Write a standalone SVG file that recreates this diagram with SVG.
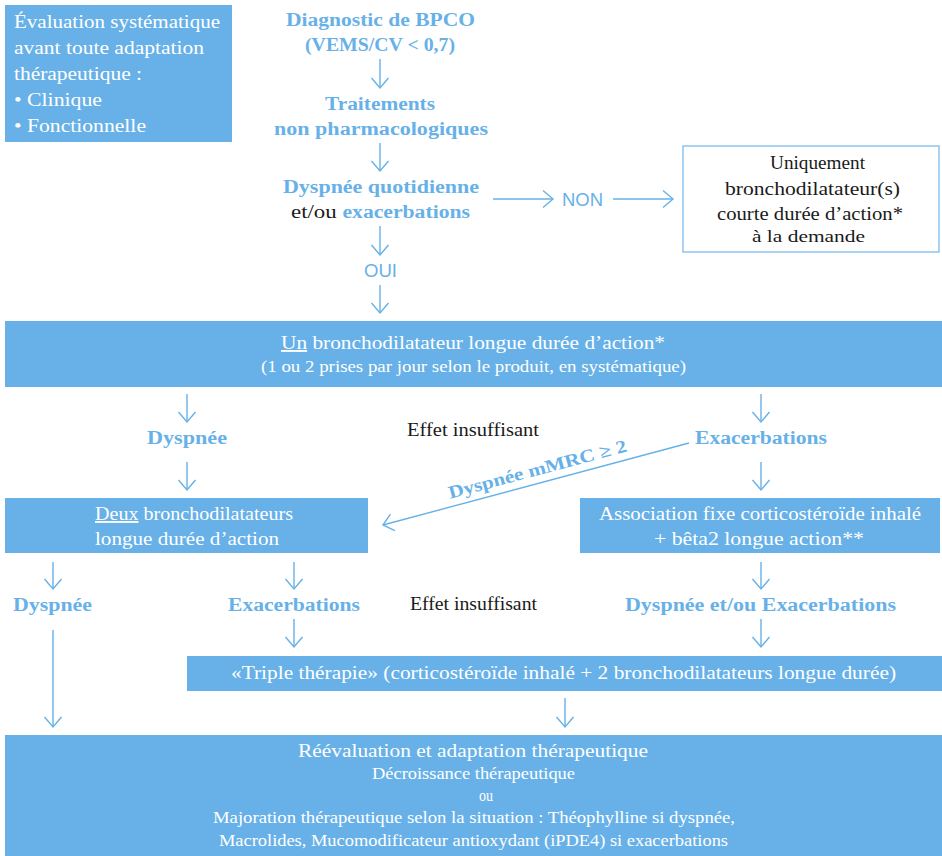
<svg xmlns="http://www.w3.org/2000/svg" width="942" height="856" viewBox="0 0 942 856">
<style>
.box{fill:#67b1e8;}
.wbox{fill:#ffffff;stroke:#8ec4ee;stroke-width:1.5;}
.wt{font-family:"Liberation Serif","Times New Roman",serif;fill:#ffffff;}
.bl{font-family:"Liberation Serif","Times New Roman",serif;font-weight:bold;fill:#67b1e8;}
.bk{font-family:"Liberation Serif","Times New Roman",serif;fill:#1a1a1a;}
.sans{font-family:"Liberation Sans",Arial,sans-serif;fill:#67b1e8;}
.c{stroke:#67b1e8;stroke-width:1.4;fill:none;}
</style>
<defs>
<marker id="ah" viewBox="-12 -10 14 20" markerWidth="14" markerHeight="20" refX="0" refY="0" orient="auto" markerUnits="userSpaceOnUse">
<path d="M-10,-8.5 L0,0 L-10,8.5" fill="none" stroke="#67b1e8" stroke-width="1.4"/>
</marker>
</defs>
<rect width="942" height="856" fill="#ffffff"/>

<g id="connectors">
<line class="c" x1="380" y1="59" x2="380" y2="88" marker-end="url(#ah)"/>
<line class="c" x1="380" y1="143" x2="380" y2="171" marker-end="url(#ah)"/>
<line class="c" x1="493" y1="199" x2="553" y2="199" marker-end="url(#ah)"/>
<line class="c" x1="613" y1="199" x2="673" y2="199" marker-end="url(#ah)"/>
<line class="c" x1="380" y1="226" x2="380" y2="255" marker-end="url(#ah)"/>
<line class="c" x1="380" y1="285" x2="380" y2="313" marker-end="url(#ah)"/>
<line class="c" x1="187" y1="394" x2="187" y2="422" marker-end="url(#ah)"/>
<line class="c" x1="761" y1="394" x2="761" y2="422" marker-end="url(#ah)"/>
<line class="c" x1="187" y1="462" x2="187" y2="490" marker-end="url(#ah)"/>
<line class="c" x1="761" y1="462" x2="761" y2="490" marker-end="url(#ah)"/>
<line class="c" x1="689" y1="443" x2="383" y2="525" marker-end="url(#ah)"/>
<line class="c" x1="53" y1="562" x2="53" y2="589" marker-end="url(#ah)"/>
<line class="c" x1="294" y1="562" x2="294" y2="589" marker-end="url(#ah)"/>
<line class="c" x1="761" y1="562" x2="761" y2="589" marker-end="url(#ah)"/>
<line class="c" x1="294" y1="619" x2="294" y2="647" marker-end="url(#ah)"/>
<line class="c" x1="761" y1="619" x2="761" y2="647" marker-end="url(#ah)"/>
<line class="c" x1="53" y1="630" x2="53" y2="727" marker-end="url(#ah)"/>
<line class="c" x1="565" y1="698" x2="565" y2="727" marker-end="url(#ah)"/>
</g>

<g id="evaluation">
<rect class="box" x="5" y="5" width="227" height="137"/>
<text class="wt" font-size="19" x="14" y="28" textLength="206" lengthAdjust="spacingAndGlyphs">Évaluation systématique</text>
<text class="wt" font-size="19" x="14" y="54" textLength="190" lengthAdjust="spacingAndGlyphs">avant toute adaptation</text>
<text class="wt" font-size="19" x="14" y="80" textLength="128" lengthAdjust="spacingAndGlyphs">thérapeutique :</text>
<text class="wt" font-size="19" x="14" y="106" textLength="88" lengthAdjust="spacingAndGlyphs">• Clinique</text>
<text class="wt" font-size="19" x="14" y="132" textLength="132" lengthAdjust="spacingAndGlyphs">• Fonctionnelle</text>
</g>

<g id="diagnostic">
<text class="bl" font-size="18" x="286" y="26" textLength="189" lengthAdjust="spacingAndGlyphs">Diagnostic de BPCO</text>
<text class="bl" font-size="18" x="305" y="51" textLength="150" lengthAdjust="spacingAndGlyphs">(VEMS/CV &lt; 0,7)</text>
</g>

<g id="traitements">
<text class="bl" font-size="18" x="325" y="110" textLength="110" lengthAdjust="spacingAndGlyphs">Traitements</text>
<text class="bl" font-size="18" x="274" y="135" textLength="214" lengthAdjust="spacingAndGlyphs">non pharmacologiques</text>
</g>

<g id="dyspnee-quotidienne">
<text class="bl" font-size="18" x="283" y="193" textLength="196" lengthAdjust="spacingAndGlyphs">Dyspnée quotidienne</text>
<text font-size="18" x="291" y="218" textLength="179" lengthAdjust="spacingAndGlyphs"><tspan class="bk" font-size="19">et/ou </tspan><tspan class="bl">exacerbations</tspan></text>
</g>

<g id="non">
<text class="sans" font-size="18" x="562" y="206" textLength="41" lengthAdjust="spacingAndGlyphs">NON</text>
</g>

<g id="oui">
<text class="sans" font-size="18" x="364" y="277" textLength="33" lengthAdjust="spacingAndGlyphs">OUI</text>
</g>

<g id="courte-duree">
<rect class="wbox" x="683" y="146" width="256" height="106"/>
<text class="bk" font-size="19" x="770" y="169" textLength="95" lengthAdjust="spacingAndGlyphs">Uniquement</text>
<text class="bk" font-size="19" x="725" y="195" textLength="175" lengthAdjust="spacingAndGlyphs">bronchodilatateur(s)</text>
<text class="bk" font-size="19" x="717" y="220" textLength="186" lengthAdjust="spacingAndGlyphs">courte durée d’action*</text>
<text class="bk" font-size="16" x="752" y="242" textLength="113" lengthAdjust="spacingAndGlyphs">à la demande</text>
</g>

<g id="un-bronchodilatateur">
<rect class="box" x="5" y="321" width="937" height="66"/>
<text class="wt" font-size="19" x="281" y="349" textLength="384" lengthAdjust="spacingAndGlyphs"><tspan text-decoration="underline">Un</tspan> bronchodilatateur longue durée d’action*</text>
<text class="wt" font-size="16" x="261" y="372" textLength="425" lengthAdjust="spacingAndGlyphs">(1 ou 2 prises par jour selon le produit, en systématique)</text>
</g>

<g id="dyspnee-1">
<text class="bl" font-size="18" x="147" y="444" textLength="80" lengthAdjust="spacingAndGlyphs">Dyspnée</text>
</g>
<g id="effet-1">
<text class="bk" font-size="18" x="407" y="436" textLength="132" lengthAdjust="spacingAndGlyphs">Effet insuffisant</text>
</g>
<g id="exacerbations-1">
<text class="bl" font-size="18" x="695" y="444" textLength="132" lengthAdjust="spacingAndGlyphs">Exacerbations</text>
</g>
<g id="dyspnee-mmrc">
<text class="bl" font-size="18" x="539" y="475" text-anchor="middle" textLength="184" lengthAdjust="spacingAndGlyphs" transform="rotate(-15 539 475)">Dyspnée mMRC ≥ 2</text>
</g>

<g id="deux-bronchodilatateurs">
<rect class="box" x="5" y="498" width="363" height="55"/>
<text class="wt" font-size="19" x="95" y="520" textLength="198" lengthAdjust="spacingAndGlyphs"><tspan text-decoration="underline">Deux</tspan> bronchodilatateurs</text>
<text class="wt" font-size="19" x="95" y="545" textLength="184" lengthAdjust="spacingAndGlyphs">longue durée d’action</text>
</g>

<g id="association-fixe">
<rect class="box" x="580" y="498" width="360" height="55"/>
<text class="wt" font-size="19" x="599" y="520" textLength="322" lengthAdjust="spacingAndGlyphs">Association fixe corticostéroïde inhalé</text>
<text class="wt" font-size="19" x="654" y="545" textLength="210" lengthAdjust="spacingAndGlyphs">+ bêta2 longue action**</text>
</g>

<g id="dyspnee-2">
<text class="bl" font-size="18" x="13" y="611" textLength="79" lengthAdjust="spacingAndGlyphs">Dyspnée</text>
</g>
<g id="exacerbations-2">
<text class="bl" font-size="18" x="228" y="611" textLength="132" lengthAdjust="spacingAndGlyphs">Exacerbations</text>
</g>
<g id="effet-2">
<text class="bk" font-size="18" x="410" y="610" textLength="127" lengthAdjust="spacingAndGlyphs">Effet insuffisant</text>
</g>
<g id="dyspnee-exacerbations">
<text class="bl" font-size="18" x="625" y="611" textLength="271" lengthAdjust="spacingAndGlyphs">Dyspnée et/ou Exacerbations</text>
</g>

<g id="triple-therapie">
<rect class="box" x="187" y="656" width="755" height="35"/>
<text class="wt" font-size="19" x="231" y="679" textLength="665" lengthAdjust="spacingAndGlyphs">«Triple thérapie» (corticostéroïde inhalé + 2 bronchodilatateurs longue durée)</text>
</g>

<g id="reevaluation">
<rect class="box" x="5" y="735" width="937" height="121"/>
<text class="wt" font-size="19" x="298" y="757" textLength="350" lengthAdjust="spacingAndGlyphs">Réévaluation et adaptation thérapeutique</text>
<text class="wt" font-size="16" x="372" y="779" textLength="203" lengthAdjust="spacingAndGlyphs">Décroissance thérapeutique</text>
<text class="wt" font-size="16" x="479" y="801" textLength="14" lengthAdjust="spacingAndGlyphs">ou</text>
<text class="wt" font-size="16" x="213" y="823" textLength="522" lengthAdjust="spacingAndGlyphs">Majoration thérapeutique selon la situation : Théophylline si dyspnée,</text>
<text class="wt" font-size="16" x="219" y="846" textLength="509" lengthAdjust="spacingAndGlyphs">Macrolides, Mucomodificateur antioxydant (iPDE4) si exacerbations</text>
</g>
</svg>
